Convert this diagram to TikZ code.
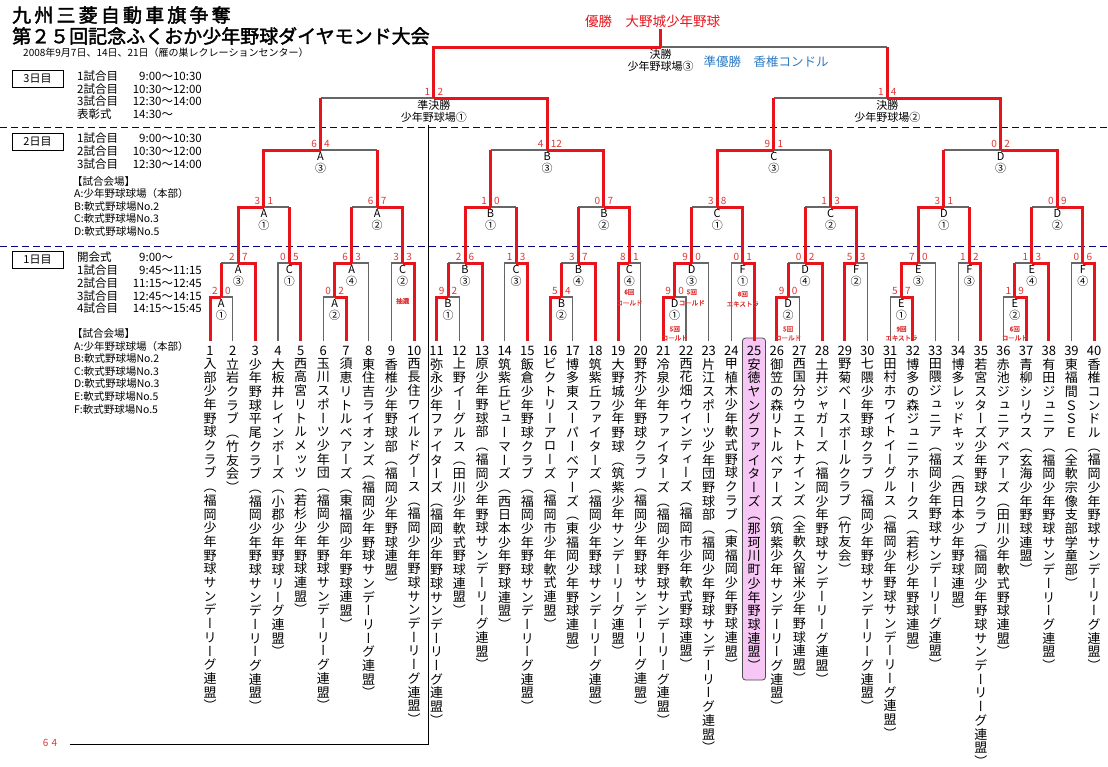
\documentclass[tikz,border=0pt]{standalone}
\usepackage{fontspec}
\setmainfont{Noto Sans CJK JP}[AutoFakeBold=2]
\newfontfamily\vfont{Noto Sans CJK JP}[RawFeature=+vert]
\usetikzlibrary{calc}
\definecolor{wred}{HTML}{E8141C}
\definecolor{sred}{HTML}{E03838}
\definecolor{lgrey}{HTML}{666666}
\definecolor{rublue}{HTML}{2C7CC4}
\definecolor{pinkbox}{HTML}{F6C6F4}
\ExplSyntaxOn
\tl_new:N \l_vt_tl
\NewDocumentCommand\vtext{m}{
  \tl_set:Ne \l_vt_tl {#1}
  \vbox{\baselineskip=13.7pt\lineskiplimit=-20pt\lineskip=0pt
    \tl_map_inline:Nn \l_vt_tl {\hbox_to_wd:nn{14pt}{\hss##1\hss}}}
}
\ExplSyntaxOff
\tikzset{
  win/.style={draw=wred,line width=3pt,line join=miter},
  lose/.style={draw=lgrey,line width=1.2pt},
  score/.style={text=sred,font=\fontsize{10}{10}\selectfont,inner sep=1pt},
  lbl/.style={font=\fontsize{11}{12}\selectfont,align=center,inner sep=1pt,anchor=north},
  note/.style={text=sred,font=\bfseries\fontsize{6.5}{7}\selectfont,inner sep=0pt},
  sched/.style={font=\fontsize{11.5}{12}\selectfont,inner sep=0pt},
  venue/.style={font=\fontsize{10.5}{11}\selectfont,inner sep=0pt,anchor=west},
  daybox/.style={draw,line width=0.8pt,minimum width=51pt,minimum height=17pt,font=\fontsize{11}{11}\selectfont,inner sep=0pt},
  num/.style={font=\fontsize{13}{13}\selectfont,inner sep=0pt},
}
% name, left, right, y, line1, line2, lscore, rscore, code
% code 1: left wins/loser team; 2: left wins/loser match; 3: right wins/loser team; 4: right wins/loser match
\newcommand\match[9]{%
  \path let \p1=(#2),\p2=(#3) in coordinate (#1) at ({(\x1+\x2)/2},{#4});
  \ifcase#9\or
    \draw[lose] (#3) |- (#1); \draw[win] (#2) |- (#1);
  \or
    \draw[lose] (#3 |- #1) -- (#1); \draw[win] (#3) -- (#3 |- #1); \draw[win] (#2) |- (#1);
  \or
    \draw[lose] (#2) |- (#1); \draw[win] (#3) |- (#1);
  \or
    \draw[lose] (#2 |- #1) -- (#1); \draw[win] (#2) -- (#2 |- #1); \draw[win] (#3) |- (#1);
  \fi
  \node[lbl] at ($(#1)+(0,1)$) {#5\\#6};
  \node[score,anchor=south east] at ($(#1)+(-2.5,-1.5)$) {#7};
  \node[score,anchor=south west] at ($(#1)+(2.5,-1.5)$) {#8};
}
\newcommand\mnote[3]{%
  \node[note] at ($(#1)+(0,#2)$) {#3};}
\begin{document}
\begin{tikzpicture}[x=1pt,y=-1pt]
\useasboundingbox (0,0) rectangle (1108,766);
\fill[white] (0,0) rectangle (1108,766);
% header
\node[anchor=west,inner sep=0,font=\bfseries\fontsize{19}{19}\selectfont] (t1) at (12,15) {九\,州\,三\,菱\,自\,動\,車\,旗\,争\,奪};
\node[anchor=west,inner sep=0,font=\bfseries\fontsize{19}{19}\selectfont] (t2) at (12,36) {第２５回記念ふくおか少年野球ダイヤモンド大会};
\node[anchor=west,inner sep=0,font=\fontsize{10}{10}\selectfont] (t3) at (23,53) {2008年9月7日、14日、21日（雁の巣レクレーションセンター）};
% day boxes
\node[daybox] (d3) at (37.5,79) {3日目};
\node[daybox] (d2) at (37.5,142) {2日目};
\node[daybox] (d1) at (37.5,260) {1日目};
\foreach \y/\a/\b [count=\k] in {76/1試合目/9:00～10:30,89/2試合目/10:30～12:00,101/3試合目/12:30～14:00,114/表彰式/14:30～\phantom{10:30}}{
  \node[sched,anchor=west] (s3l\k) at (77,\y) {\a};
  \node[sched,anchor=east] (s3r\k) at (202,\y) {\b};}
\foreach \y/\a/\b [count=\k] in {138/1試合目/9:00～10:30,151/2試合目/10:30～12:00,164/3試合目/12:30～14:00}{
  \node[sched,anchor=west] (s2l\k) at (77,\y) {\a};
  \node[sched,anchor=east] (s2r\k) at (202,\y) {\b};}
\foreach \y/\a/\b [count=\k] in {257/開会式/9:00～\phantom{11:15},270/1試合目/9:45～11:15,283/2試合目/11:15～12:45,296/3試合目/12:45～14:15,308/4試合目/14:15～15:45}{
  \node[sched,anchor=west] (s1l\k) at (77,\y) {\a};
  \node[sched,anchor=east] (s1r\k) at (202,\y) {\b};}
\node[venue] (v0) at (72,182) {【試合会場】};
\foreach \y/\t [count=\k] in {194/A:少年野球球場（本部）,207/B:軟式野球場No.2,219/C:軟式野球場No.3,232/D:軟式野球場No.5}
  \node[venue] (va\k) at (74,\y) {\t};
\node[venue] (w0) at (72,334) {【試合会場】};
\foreach \y/\t [count=\k] in {347/A:少年野球球場（本部）,359/B:軟式野球場No.2,372/C:軟式野球場No.3,384/D:軟式野球場No.3,397/E:軟式野球場No.5,410/F:軟式野球場No.5}
  \node[venue] (vb\k) at (74,\y) {\t};
% dashed day separators
\draw[draw=blue!50!black,line width=0.9pt,dash pattern=on 7pt off 4pt] (0,127) -- (1108,127);
\draw[draw=blue!50!black,line width=0.9pt,dash pattern=on 7pt off 4pt] (0,246) -- (1108,246);
% separator and page number
\coordinate (sepT) at (428,125);
\coordinate (sepB) at (428,744);
\coordinate (sepL) at (70,744);
\draw[line width=0.8pt] (sepT) -- (sepB) -- (sepL);
\node[text=sred,font=\fontsize{10}{10}\selectfont,inner sep=0] (pg) at (50,743) {6\,\,4};
% pink box for runner-up
\fill[pinkbox,draw=black!70,line width=0.8pt,rounded corners=3pt] (742.5,338) rectangle (765.5,680);
% teams
\foreach \i/\nm in {1/入部少年野球クラブ（福岡少年野球サンデーリーグ連盟）,
2/立岩クラブ（竹友会）,
3/少年野球平尾クラブ（福岡少年野球サンデーリーグ連盟）,
4/大板井レインボーズ（小郡少年野球リーグ連盟）,
5/西高宮リトルメッツ（若杉少年野球連盟）,
6/玉川スポーツ少年団（福岡少年野球サンデーリーグ連盟）,
7/須恵リトルベアーズ（東福岡少年野球連盟）,
8/東住吉ライオンズ（福岡少年野球サンデーリーグ連盟）,
9/香椎少年野球部（福岡少年野球連盟）,
10/西長住ワイルドグース（福岡少年野球サンデーリーグ連盟）,
11/弥永少年ファイターズ（福岡少年野球サンデーリーグ連盟）,
12/上野イーグルス（田川少年軟式野球連盟）,
13/原少年野球部（福岡少年野球サンデーリーグ連盟）,
14/筑紫丘ピューマーズ（西日本少年野球連盟）,
15/飯倉少年野球クラブ（福岡少年野球サンデーリーグ連盟）,
16/ビクトリーアローズ（福岡市少年軟式連盟）,
17/博多東スーパーベアーズ（東福岡少年野球連盟）,
18/筑紫丘ファイターズ（福岡少年野球サンデーリーグ連盟）,
19/大野城少年野球（筑紫少年サンデーリーグ連盟）,
20/野芥少年野球クラブ（福岡少年野球サンデーリーグ連盟）,
21/冷泉少年ファイターズ（福岡少年野球サンデーリーグ連盟）,
22/西花畑ウインディーズ（福岡市少年軟式野球連盟）,
23/片江スポーツ少年団野球部（福岡少年野球サンデーリーグ連盟）,
24/甲植木少年軟式野球クラブ（東福岡少年野球連盟）,
25/安徳ヤングファイターズ（那珂川町少年野球連盟）,
26/御笠の森リトルベアーズ（筑紫少年サンデーリーグ連盟）,
27/西国分ウエストナインズ（全軟久留米少年野球連盟）,
28/土井ジャガーズ（福岡少年野球サンデーリーグ連盟）,
29/野菊ベースボールクラブ（竹友会）,
30/七隈少年野球クラブ（福岡少年野球サンデーリーグ連盟）,
31/田村ホワイトイーグルス（福岡少年野球サンデーリーグ連盟）,
32/博多の森ジュニアホークス（若杉少年野球連盟）,
33/田隈ジュニア（福岡少年野球サンデーリーグ連盟）,
34/博多レッドキッズ（西日本少年野球連盟）,
35/若宮スターズ少年野球クラブ（福岡少年野球サンデーリーグ連盟）,
36/赤池ジュニアベアーズ（田川少年軟式野球連盟）,
37/青柳シリウス（玄海少年野球連盟）,
38/有田ジュニア（福岡少年野球サンデーリーグ連盟）,
39/東福間ＳＳＥ（全軟宗像支部学童部）,
40/香椎コンドル（福岡少年野球サンデーリーグ連盟）}{
  \coordinate (T\i) at ({210+(\i-1)*22.67},341);
  \node[num] (N\i) at ({210+(\i-1)*22.67},351) {\i};
  \node[anchor=north,inner sep=0] (L\i) at ({210+(\i-1)*22.67},358) {\vfont\fontsize{13}{13.7}\selectfont\vtext{\nm}};
}
% Block A
\match{a1}{T1}{T2}{297}{A}{①}{2}{0}{1}
\match{a2}{a1}{T3}{263}{A}{③}{2}{7}{4}
\match{a3}{T4}{T5}{263}{C}{①}{0}{5}{3}
\match{a4}{a2}{a3}{207}{A}{①}{3}{1}{2}
\match{a5}{T6}{T7}{297}{A}{②}{0}{2}{3}
\match{a6}{a5}{T8}{263}{A}{④}{6}{3}{1}
\match{a7}{T9}{T10}{263}{C}{②}{3}{3}{3}
\match{a8}{a6}{a7}{207}{A}{②}{6}{7}{4}
\match{a9}{a4}{a8}{150}{A}{③}{6}{4}{2}
% Block B
\match{b1}{T11}{T12}{297}{B}{①}{9}{2}{1}
\match{b2}{b1}{T13}{263}{B}{③}{2}{6}{4}
\match{b3}{T14}{T15}{263}{C}{③}{1}{3}{3}
\match{b4}{b2}{b3}{207}{B}{①}{1}{0}{2}
\match{b5}{T16}{T17}{297}{B}{②}{5}{4}{1}
\match{b6}{b5}{T18}{263}{B}{④}{3}{7}{4}
\match{b7}{T19}{T20}{263}{C}{④}{8}{1}{1}
\match{b8}{b6}{b7}{207}{B}{②}{0}{7}{4}
\match{b9}{b4}{b8}{150}{B}{③}{4}{12}{4}
% Block C
\match{c1}{T21}{T22}{297}{D}{①}{9}{0}{1}
\match{c2}{c1}{T23}{263}{D}{③}{9}{0}{1}
\match{c3}{T24}{T25}{263}{F}{①}{0}{1}{3}
\match{c4}{c2}{c3}{207}{C}{①}{3}{8}{4}
\match{c5}{T26}{T27}{297}{D}{②}{9}{0}{1}
\match{c6}{c5}{T28}{263}{D}{④}{0}{2}{4}
\match{c7}{T29}{T30}{263}{F}{②}{5}{3}{1}
\match{c8}{c6}{c7}{207}{C}{②}{1}{3}{4}
\match{c9}{c4}{c8}{150}{C}{③}{9}{1}{2}
% Block D
\match{d1}{T31}{T32}{297}{E}{①}{5}{7}{3}
\match{d2}{d1}{T33}{263}{E}{③}{7}{0}{1}
\match{d3}{T34}{T35}{263}{F}{③}{1}{2}{3}
\match{d4}{d2}{d3}{207}{D}{①}{3}{1}{2}
\match{d5}{T36}{T37}{297}{E}{②}{1}{9}{3}
\match{d6}{d5}{T38}{263}{E}{④}{1}{3}{4}
\match{d7}{T39}{T40}{263}{F}{④}{0}{6}{3}
\match{d8}{d6}{d7}{207}{D}{②}{0}{9}{4}
\match{d9}{d4}{d8}{150}{D}{③}{0}{2}{4}
% semis and final
\match{sl}{a9}{b9}{98}{準決勝}{少年野球場①}{1}{2}{4}
\match{sr}{c9}{d9}{98}{決勝}{少年野球場②}{1}{4}{4}
\match{fi}{sl}{sr}{47}{決勝}{少年野球場③}{}{}{2}
\coordinate (champ) at ($(fi)+(0,-18)$);
\draw[win] (fi) -- (champ);
\node[text=wred,anchor=south,inner sep=1pt,font=\fontsize{13.5}{14}\selectfont] (champT) at ($(champ)+(-8,0)$) {優勝\quad 大野城少年野球};
\node[text=rublue,inner sep=0,font=\fontsize{12.5}{13}\selectfont] (ru) at (766,62) {準優勝\quad 香椎コンドル};
% notes
\mnote{a7}{38}{抽選}
\mnote{b7}{29}{6回} \mnote{b7}{40}{コールド}
\mnote{c1}{32}{5回} \mnote{c1}{41}{コールド}
\mnote{c2}{29}{5回} \mnote{c2}{40}{コールド}
\mnote{c3}{31}{8回} \mnote{c3}{41}{エキストラ}
\mnote{c5}{32}{5回} \mnote{c5}{41}{コールド}
\mnote{d1}{32}{9回} \mnote{d1}{41}{エキストラ}
\mnote{d5}{32}{6回} \mnote{d5}{41}{コールド}
\end{tikzpicture}
\end{document}
